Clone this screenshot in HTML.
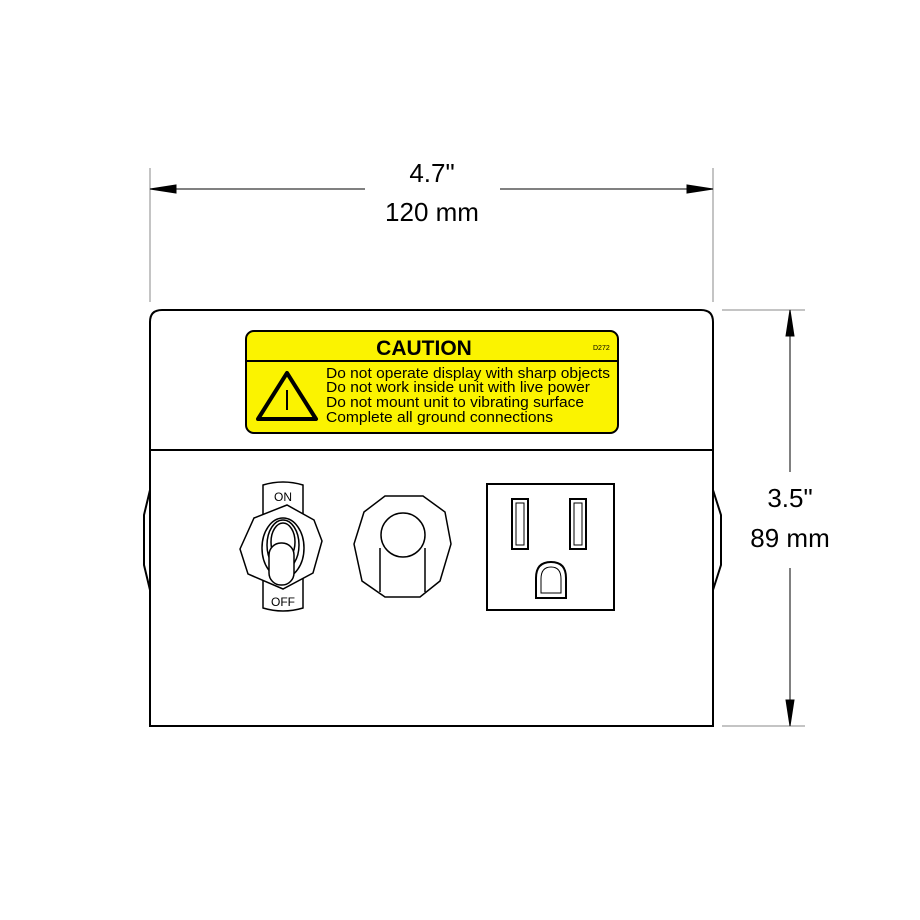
<!DOCTYPE html>
<html><head><style>body{margin:0;background:#fff}svg{display:block}text{font-family:"Liberation Sans",sans-serif}</style></head><body>
<svg width="920" height="920" viewBox="0 0 920 920" xmlns="http://www.w3.org/2000/svg">
<g stroke="#000" fill="none" stroke-width="1">
<line x1="150" y1="168" x2="150" y2="302" stroke="#888"/>
<line x1="713" y1="168" x2="713" y2="302" stroke="#888"/>
<line x1="150" y1="189" x2="365" y2="189"/>
<line x1="500" y1="189" x2="713" y2="189"/>
<polygon points="150,189 176,185 176,193" fill="#000"/>
<polygon points="713,189 687,185 687,193" fill="#000"/>
<line x1="722" y1="310" x2="805" y2="310" stroke="#888"/>
<line x1="722" y1="726" x2="805" y2="726" stroke="#888"/>
<line x1="790" y1="310" x2="790" y2="472"/>
<line x1="790" y1="568" x2="790" y2="726"/>
<polygon points="790,310 786,336 794,336" fill="#000"/>
<polygon points="790,726 786,700 794,700" fill="#000"/>
</g>
<text x="432" y="182" font-size="26" text-anchor="middle">4.7"</text>
<text x="432" y="221" font-size="26" text-anchor="middle">120 mm</text>
<text x="790" y="507" font-size="26" text-anchor="middle">3.5"</text>
<text x="790" y="547" font-size="26" text-anchor="middle">89 mm</text>
<g stroke="#000" fill="none" stroke-width="2">
<path d="M150,490 L144,515 L144,565 L150,590"/>
<path d="M713,490 L721,515 L721,565 L713,590"/>
<path d="M150,726 L150,322 Q150,310 162,310 L701,310 Q713,310 713,322 L713,726 Z" fill="#fff"/>
<line x1="150" y1="450" x2="713" y2="450"/>
</g>
<rect x="246" y="331" width="372" height="102" rx="8" fill="#fbf300" stroke="#000" stroke-width="2"/>
<line x1="246" y1="361" x2="618" y2="361" stroke="#000" stroke-width="2"/>
<text x="424" y="355" font-size="21" font-weight="bold" text-anchor="middle">CAUTION</text>
<text x="593" y="350" font-size="7">D272</text>
<g font-size="15">
<text x="326" y="378" textLength="284" lengthAdjust="spacingAndGlyphs">Do not operate display with sharp objects</text>
<text x="326" y="392" textLength="264" lengthAdjust="spacingAndGlyphs">Do not work inside unit with live power</text>
<text x="326" y="407" textLength="258" lengthAdjust="spacingAndGlyphs">Do not mount unit to vibrating surface</text>
<text x="326" y="422" textLength="227" lengthAdjust="spacingAndGlyphs">Complete all ground connections</text>
</g>
<polygon points="287,373 316,419 258,419" fill="none" stroke="#000" stroke-width="4" stroke-linejoin="round"/>
<line x1="287" y1="390" x2="287" y2="410" stroke="#000" stroke-width="2"/>
<g stroke="#000" fill="#fff" stroke-width="1.5">
<path d="M263,485 Q283,479 303,485 L303,608 Q283,614 263,608 Z"/>
<polygon points="254,518 287,505 314,520 322,541 313,573 283,589 248,574 240,549"/>
<ellipse cx="283" cy="548" rx="21" ry="30"/>
<ellipse cx="283" cy="545" rx="16" ry="25"/>
<ellipse cx="283" cy="542" rx="12" ry="19"/>
<rect x="269" y="543" width="25" height="42" rx="12"/>
</g>
<text x="283" y="501" font-size="12" text-anchor="middle">ON</text>
<text x="283" y="606" font-size="12" text-anchor="middle">OFF</text>
<g stroke="#000" fill="none" stroke-width="1.5">
<polygon points="385,496 423,496 445,512 451,544 440,581 420,597 385,597 362,581 354,544 364,512"/>
<line x1="380" y1="548" x2="380" y2="592"/>
<line x1="425" y1="548" x2="425" y2="592"/>
<circle cx="403" cy="535" r="22" fill="#fff"/>
</g>
<g stroke="#000" fill="none" stroke-width="2">
<rect x="487" y="484" width="127" height="126"/>
<rect x="512" y="499" width="16" height="50"/>
<rect x="516" y="503" width="8" height="42" stroke-width="1"/>
<rect x="570" y="499" width="16" height="50"/>
<rect x="574" y="503" width="8" height="42" stroke-width="1"/>
<path d="M536,598 L536,578 Q536,562 551,562 Q566,562 566,578 L566,598 Z"/>
<path d="M541,593 L541,579 Q541,567 551,567 Q561,567 561,579 L561,593 Z" stroke-width="1"/>
</g>
</svg>
</body></html>
